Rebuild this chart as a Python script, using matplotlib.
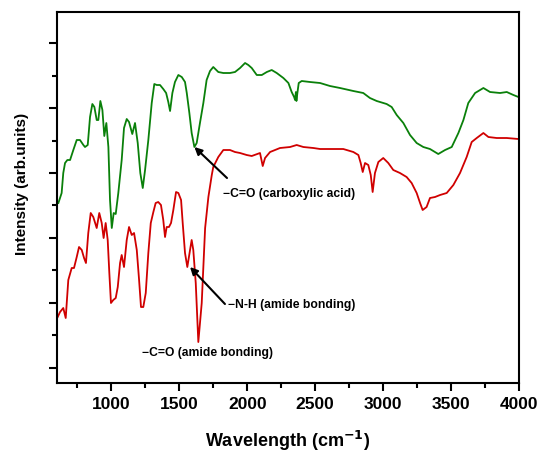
import numpy as np
import matplotlib
matplotlib.use('Agg')
from matplotlib import pyplot as plt
from matplotlib.ticker import MultipleLocator, FixedLocator, NullFormatter

plt.rcParams['font.family'] = ['Liberation Sans', 'DejaVu Sans']
plt.rcParams['font.weight'] = 'bold'

# green spectrum (upper)
green_wn = [610, 634, 646, 659, 676, 696, 720, 745, 769, 794, 806, 826, 843, 860, 875, 892, 904, 919,
            934, 948, 963, 978, 990, 1003, 1017, 1032, 1051, 1076, 1093, 1113, 1130, 1154, 1174, 1194,
            1213, 1231, 1248, 1272, 1297, 1316, 1334, 1358, 1382, 1403, 1419, 1432, 1449, 1468, 1493,
            1518, 1542, 1555, 1574, 1591, 1611, 1628, 1652, 1677, 1701, 1726, 1750, 1787, 1824, 1873,
            1910, 1947, 1984, 2008, 2033, 2070, 2107, 2144, 2180, 2217, 2266, 2303, 2327, 2345, 2352,
            2358, 2362, 2369, 2379, 2401, 2462, 2536, 2609, 2683, 2781, 2854, 2903, 2953, 3026, 3063,
            3100, 3149, 3198, 3247, 3296, 3345, 3406, 3456, 3505, 3554, 3591, 3627, 3677, 3738, 3787,
            3861, 3910, 3959, 3996]
green_int = [180, 190, 210, 220, 223, 223, 233, 243, 243, 238, 236, 238, 266, 279, 276, 263, 263, 282,
             273, 247, 260, 236, 183, 155, 170, 169, 190, 223, 255, 264, 261, 249, 260, 240,
             210, 195, 213, 243, 280, 299, 298, 298, 294, 290, 281, 272, 290, 301, 308,
             306, 301, 290, 270, 250, 236, 240, 260, 280, 303, 312, 316, 311, 310, 310,
             311, 315, 320, 318, 315, 308, 308, 311, 313, 310, 305, 300, 291, 286, 283,
             291, 282, 290, 300, 302, 301, 300, 297, 295, 292, 290, 285, 282, 279, 276,
             268, 260, 248, 240, 236, 234, 229, 233, 236, 250, 263, 280, 290, 295, 291,
             290, 291, 288, 286]

# red spectrum (lower)
red_wn = [605, 622, 646, 664, 683, 708, 725, 745, 762, 782, 799, 813, 830, 848, 867, 892, 911, 929,
          943, 958, 973, 985, 997, 1014, 1032, 1047, 1064, 1076, 1093, 1113, 1130, 1150, 1167, 1187,
          1204, 1218, 1235, 1253, 1272, 1290, 1309, 1326, 1345, 1365, 1382, 1395, 1407, 1424, 1439,
          1456, 1476, 1493, 1513, 1525, 1542, 1559, 1579, 1591, 1603, 1621, 1640, 1665, 1690, 1714,
          1739, 1750, 1787, 1824, 1873, 1910, 1947, 1996, 2033, 2094, 2114, 2131, 2168, 2241, 2315,
          2364, 2413, 2487, 2536, 2609, 2707, 2781, 2818, 2835, 2850, 2867, 2891, 2909, 2923, 2940,
          2965, 3001, 3038, 3075, 3124, 3173, 3210, 3247, 3272, 3291, 3320, 3345, 3382, 3419, 3468,
          3517, 3566, 3615, 3652, 3689, 3738, 3775, 3836, 3910, 3996]
red_int = [66, 71, 75, 65, 103, 115, 115, 126, 136, 133, 125, 120, 150, 170, 166, 155, 170, 160,
           145, 160, 143, 110, 80, 83, 85, 96, 120, 128, 116, 143, 156, 148, 150, 133,
           103, 76, 76, 90, 130, 160, 171, 180, 181, 178, 163, 146, 156, 156, 160,
           173, 191, 190, 183, 160, 130, 116, 133, 143, 133, 100, 41, 80, 155, 186,
           208, 216, 226, 233, 233, 231, 230, 228, 227, 230, 217, 225, 231, 235, 236,
           238, 236, 235, 234, 234, 234, 231, 228, 220, 211, 220, 218, 208, 191, 210,
           221, 225, 220, 213, 210, 206, 200, 190, 180, 173, 176, 185, 186, 188, 190,
           198, 210, 226, 241, 245, 250, 246, 245, 245, 244]

xticks = [1000, 1500, 2000, 2500, 3000, 3500, 4000]
ymajor = [15, 80, 145, 210, 275, 340]
yminor = [48, 113, 178, 242, 307]

# annotated bands
cooh_wn = 1611
nh_wn = 1559

fig = plt.figure(figsize=(5.41, 4.53), dpi=100)
ax = fig.add_axes([0.1054, 0.1545, 0.8539, 0.819])

ax.plot(green_wn, green_int, color='#0a800a', lw=1.3)
ax.plot(red_wn, red_int, color='#d00000', lw=1.3)

ax.set_xlim(600, 4000)
ax.set_ylim(0, 371)
ax.set_xticks(xticks)
ax.xaxis.set_minor_locator(MultipleLocator(250))
ax.yaxis.set_major_locator(FixedLocator(ymajor))
ax.yaxis.set_minor_locator(FixedLocator(yminor))
ax.yaxis.set_major_formatter(NullFormatter())
ax.tick_params(which='major', direction='out', length=6, width=1.5, labelsize=12.5, pad=4)
ax.tick_params(which='minor', direction='out', length=3.5, width=1.5)
for lab in ax.get_xticklabels():
    lab.set_fontweight('bold')
for s in ax.spines.values():
    s.set_linewidth(1.5)

ax.set_xlabel('Wavelength (cm$^{\\mathbf{-1}}$)', fontsize=13, fontweight='bold', labelpad=12)
ax.set_ylabel('Intensity (arb.units)', fontsize=11, fontweight='bold')
ax.yaxis.set_label_coords(-0.06, 0.536)

arrow = dict(arrowstyle='-|>', color='black', lw=1.5, mutation_scale=11, shrinkA=0, shrinkB=0)
ax.annotate('', xy=(cooh_wn, np.interp(cooh_wn, green_wn, green_int)), xytext=(1851, 205),
            arrowprops=arrow)
ax.text(1822, 189, '\u2212C=O (carboxylic acid)', fontsize=8.7, fontweight='bold', ha='left', va='center')
ax.annotate('', xy=(nh_wn + 20, np.interp(nh_wn, red_wn, red_int)), xytext=(1836, 79),
            arrowprops=arrow)
ax.text(1858, 78, '\u2212N-H (amide bonding)', fontsize=8.7, fontweight='bold', ha='left', va='center')
ax.text(1711, 30, '\u2212C=O (amide bonding)', fontsize=8.7, fontweight='bold', ha='center', va='center')

fig.savefig('out.png', dpi=100)
